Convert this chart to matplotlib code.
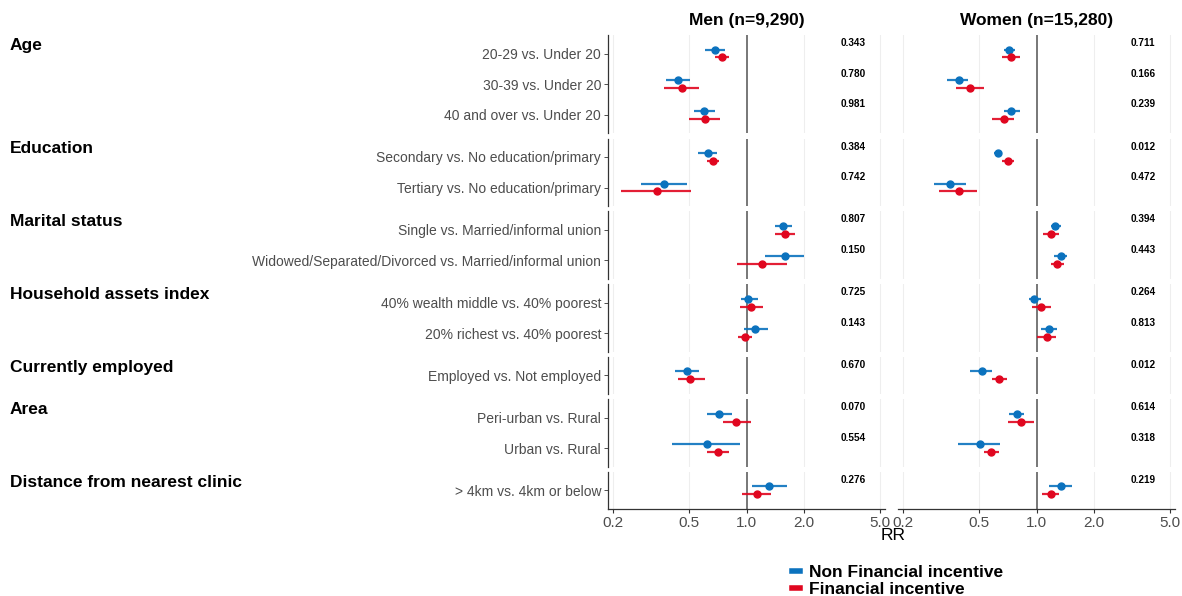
import numpy as np
import matplotlib
matplotlib.use("Agg")
import matplotlib.pyplot as plt
from matplotlib.lines import Line2D
from matplotlib.ticker import FixedLocator, NullLocator

plt.rcParams["font.family"] = ["Liberation Sans", "DejaVu Sans"]

groups = ["Age", "Education", "Marital status", "Household assets index",
          "Currently employed", "Area", "Distance from nearest clinic"]
group_sizes = [3, 2, 2, 2, 1, 2, 1]
items = [
    "20-29 vs. Under 20",
    "30-39 vs. Under 20",
    "40 and over vs. Under 20",
    "Secondary vs. No education/primary",
    "Tertiary vs. No education/primary",
    "Single vs. Married/informal union",
    "Widowed/Separated/Divorced vs. Married/informal union",
    "40% wealth middle vs. 40% poorest",
    "20% richest vs. 40% poorest",
    "Employed vs. Not employed",
    "Peri-urban vs. Rural",
    "Urban vs. Rural",
    "> 4km vs. 4km or below",
]

# Men, non financial incentive
men_nf_rr = [0.686, 0.439, 0.598, 0.630, 0.369, 1.556, 1.600, 1.024, 1.106, 0.489, 0.716, 0.620, 1.314]
men_nf_lo = [0.608, 0.380, 0.530, 0.559, 0.280, 1.413, 1.257, 0.934, 0.965, 0.420, 0.620, 0.406, 1.066]
men_nf_hi = [0.776, 0.507, 0.686, 0.699, 0.487, 1.735, 2.012, 1.146, 1.299, 0.567, 0.838, 0.927, 1.634]
# Men, financial incentive
men_f_rr = [0.740, 0.458, 0.608, 0.669, 0.338, 1.600, 1.203, 1.058, 0.980, 0.509, 0.886, 0.705, 1.137]
men_f_lo = [0.680, 0.368, 0.499, 0.620, 0.219, 1.413, 0.890, 0.930, 0.901, 0.437, 0.751, 0.620, 0.949]
men_f_hi = [0.805, 0.567, 0.725, 0.716, 0.513, 1.799, 1.620, 1.213, 1.071, 0.605, 1.058, 0.805, 1.341]
# Women, non financial incentive
women_nf_rr = [0.720, 0.391, 0.737, 0.627, 0.352, 1.252, 1.346, 0.976, 1.165, 0.521, 0.786, 0.509, 1.340]
women_nf_lo = [0.674, 0.340, 0.672, 0.598, 0.290, 1.184, 1.242, 0.912, 1.058, 0.451, 0.722, 0.389, 1.165]
women_nf_hi = [0.776, 0.439, 0.821, 0.656, 0.428, 1.346, 1.447, 1.058, 1.273, 0.588, 0.865, 0.646, 1.538]
# Women, financial incentive
women_f_rr = [0.737, 0.450, 0.672, 0.711, 0.392, 1.198, 1.278, 1.058, 1.137, 0.638, 0.828, 0.581, 1.188]
women_f_lo = [0.656, 0.380, 0.586, 0.661, 0.310, 1.088, 1.188, 0.949, 1.004, 0.584, 0.711, 0.530, 1.066]
women_f_hi = [0.824, 0.528, 0.758, 0.758, 0.487, 1.314, 1.396, 1.184, 1.268, 0.699, 0.968, 0.638, 1.319]

p_men = [0.343, 0.780, 0.981, 0.384, 0.742, 0.807, 0.150, 0.725, 0.143, 0.670, 0.070, 0.554, 0.276]
p_women = [0.711, 0.166, 0.239, 0.012, 0.472, 0.394, 0.443, 0.264, 0.813, 0.012, 0.614, 0.318, 0.219]

x_ticks = [0.2, 0.5, 1.0, 2.0, 5.0]
x_tick_labels = ["0.2", "0.5", "1.0", "2.0", "5.0"]

BLUE = "#0B72BE"
RED = "#E0061F"
GREY_TXT = "#4D4D4D"

W, H = 1182, 596
fig = plt.figure(figsize=(W / 100, H / 100), dpi=100)

UNIT = 30.6      # pixels per row
GAP = 5.5        # pixels between facet rows
TOP = 53.5 - 0.6 * UNIT
EXP = 5 / 191    # log10 expansion on each side of the x range
XLIM = (0.2 / 10 ** EXP, 5.0 * 10 ** EXP)
PANEL_W = 277
cols = [
    ("Men (n=9,290)", 608, (men_nf_rr, men_nf_lo, men_nf_hi), (men_f_rr, men_f_lo, men_f_hi), p_men),
    ("Women (n=15,280)", 898, (women_nf_rr, women_nf_lo, women_nf_hi), (women_f_rr, women_f_lo, women_f_hi), p_women),
]
DODGE = 0.13


def px_axes(left, top, width, height):
    return fig.add_axes([left / W, 1 - (top + height) / H, width / W, height / H])


top = TOP
start = 0
for gi, (gname, n) in enumerate(zip(groups, group_sizes)):
    height = (n + 0.2) * UNIT
    last = gi == len(groups) - 1
    for ci, (title, left, nf, fin, pvals) in enumerate(cols):
        ax = px_axes(left, top, PANEL_W, height)
        ax.set_xscale("log")
        ax.set_xlim(*XLIM)
        ax.set_ylim(n - 1 + 0.6, -0.6)
        for s in ["top", "right"]:
            ax.spines[s].set_visible(False)
        ax.spines["left"].set_visible(ci == 0)
        ax.spines["bottom"].set_visible(last)
        for s in ["left", "bottom"]:
            ax.spines[s].set_color("#333333")
            ax.spines[s].set_linewidth(0.9)

        for xv in [0.2, 0.5, 2.0, 5.0]:
            ax.axvline(xv, color="#EEEEEE", lw=0.8, zorder=0)
        ax.axvline(1.0, color="#606060", lw=1.2, zorder=1)

        idx = np.arange(start, start + n)
        ys = np.arange(n)
        for (rr, lo, hi), color, dy in [(nf, BLUE, -DODGE), (fin, RED, DODGE)]:
            rr_a = np.array(rr)[idx]
            lo_a = np.array(lo)[idx]
            hi_a = np.array(hi)[idx]
            ax.hlines(ys + dy, lo_a, hi_a, color=color, lw=1.6, alpha=0.9, zorder=2)
            ax.plot(rr_a, ys + dy, "o", color=color, ms=5, zorder=3)
        for y, p in zip(ys, np.array(pvals)[idx]):
            ax.text(3.6, y - 0.34, f"{p:.3f}", ha="center", va="center",
                    fontsize=7.2, fontweight="bold", color="black")

        ax.xaxis.set_major_locator(FixedLocator(x_ticks))
        ax.xaxis.set_minor_locator(NullLocator())
        if last:
            ax.set_xticklabels(x_tick_labels)
            ax.tick_params(axis="x", labelsize=11, labelcolor=GREY_TXT, color="#333333",
                           length=3, width=0.8, pad=2)
        else:
            ax.tick_params(axis="x", bottom=False, labelbottom=False)

        ax.set_yticks(ys)
        if ci == 0:
            ax.set_yticklabels(items[start:start + n])
            ax.tick_params(axis="y", labelsize=10, labelcolor=GREY_TXT, color="#333333",
                           length=3, width=0.6, pad=2)
            ax.annotate(gname, xy=(10 / W, 0), xycoords=(fig.transFigure, ax.transData),
                        xytext=(0, 8), textcoords="offset pixels",
                        ha="left", va="center", fontsize=12.5, fontweight="bold")
        else:
            ax.tick_params(axis="y", left=False, labelleft=False)

        if gi == 0:
            ax.set_title(title, fontsize=12.5, fontweight="bold", pad=7)
    top += height + GAP
    start += n

fig.text(893 / W, 1 - 536 / H, "RR", ha="center", va="center", fontsize=12.5)

handles = [Line2D([], [], color=BLUE, lw=4), Line2D([], [], color=RED, lw=4)]
fig.legend(handles, ["Non Financial incentive", "Financial incentive"],
           loc="center left", bbox_to_anchor=(776 / W, 1 - 581 / H),
           frameon=False, handlelength=0.5, handletextpad=0.5, labelspacing=0.12,
           prop={"weight": "bold", "size": 12.5})

fig.savefig("out.png", dpi=100)
